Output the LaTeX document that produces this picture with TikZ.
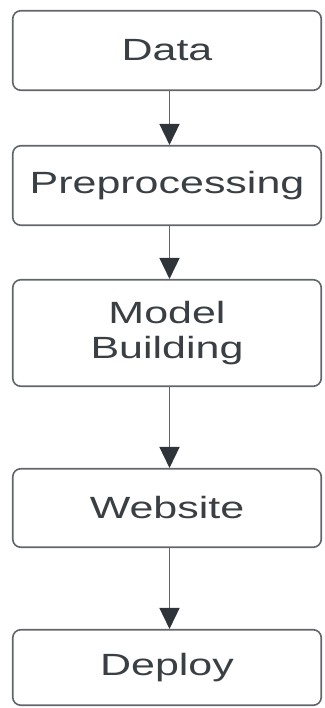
\documentclass[tikz,border=0pt]{standalone}
\usepackage{fontspec}
\setmainfont[FakeStretch=1.4]{Liberation Sans}
\usetikzlibrary{arrows.meta}
\definecolor{boxline}{HTML}{62666B}
\definecolor{tipdark}{HTML}{2E343A}
\definecolor{txt}{HTML}{3A3F44}
\begin{document}
\begin{tikzpicture}[x=1pt,y=-1pt,
    box/.style={draw=boxline, line width=1.6pt, rounded corners=8pt, minimum width=308.5pt, text=txt, font=\fontsize{30.7}{35}\selectfont, align=center, inner sep=0pt},
    arr/.style={draw=boxline, line width=1.6pt, -{Triangle[width=20pt,length=21pt,color=tipdark]}}]
            \useasboundingbox (0,0) rectangle (324,708);
            \node[box, minimum height=79.5pt] (Data) at (167,50.5) {Data};
            \node[box, minimum height=79.5pt] (Prep) at (167,185.5) {Preprocessing};
            \node[box, minimum height=106.5pt] (Model) at (167,333) {Model\\Building};
            \node[box, minimum height=78.5pt] (Web) at (167,508) {Website};
            \node[box, minimum height=75.5pt] (Deploy) at (167,667.5) {Deploy};

            \draw[arr] ([xshift=2.5pt]Data.south) -- ([xshift=2.5pt]Prep.north);
            \draw[arr] ([xshift=2.5pt]Prep.south) -- ([xshift=2.5pt]Model.north);
            \draw[arr] ([xshift=2.5pt]Model.south) -- ([xshift=2.5pt]Web.north);
            \draw[arr] ([xshift=2.5pt]Web.south) -- ([xshift=2.5pt]Deploy.north);
\end{tikzpicture}
\end{document}
